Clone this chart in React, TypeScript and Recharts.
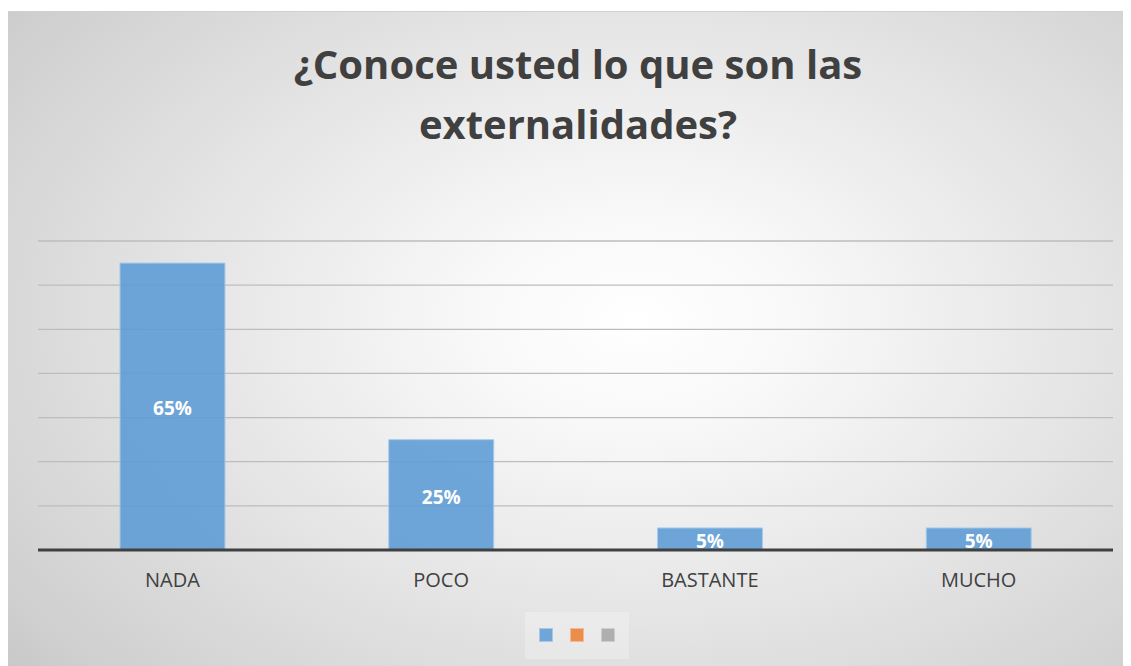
import React from "react";
import { BarChart, Bar, XAxis, YAxis, CartesianGrid, Legend, LabelList } from "recharts";

const categories = ["NADA", "POCO", "BASTANTE", "MUCHO"];
const values = [65, 25, 5, 5];
const valueLabels = ["65%", "25%", "5%", "5%"];
const yTicks = [0, 10, 20, 30, 40, 50, 60, 70];
const legendColors = ["#5B9BD5", "#ED7D31", "#A5A5A5"];
const titleLines = ["¿Conoce usted lo que son las", "externalidades?"];

const data = categories.map((c, i) => ({ name: c, value: values[i], label: valueLabels[i] }));

const FONT = "'Open Sans', sans-serif";

const LegendContent = () => (
  <div style={{ display: "flex", justifyContent: "center", paddingLeft: 2 }}>
    <div
      style={{
        display: "flex",
        gap: 17,
        padding: "16px 14px 17px 14px",
        background: "rgba(255,255,255,0.25)",
      }}
    >
      {legendColors.map((c) => (
        <div
          key={c}
          style={{ width: 14, height: 14, background: c, opacity: 0.85, boxSizing: "border-box", border: "1px solid rgba(255,255,255,0.4)" }}
        />
      ))}
    </div>
  </div>
);

export default function App() {
  return (
    <div
      style={{
        position: "relative",
        width: 1123,
        height: 655,
        marginTop: 3,
        background:
          "radial-gradient(ellipse 75% 85% at 56% 47%, #ffffff 0%, #f8f8f8 20%, #e4e4e4 55%, #cfcfcf 90%, #c6c6c6 100%)",
        borderTop: "1px solid #d0d0d0",
        boxSizing: "border-box",
        fontFamily: FONT,
      }}
    >
      <div
        style={{
          position: "absolute",
          left: 0,
          top: 22,
          width: 1140,
          textAlign: "center",
          fontWeight: 700,
          fontSize: 40,
          lineHeight: "60px",
          color: "#404040",
        }}
      >
        {titleLines.map((t) => (
          <div key={t}>{t}</div>
        ))}
      </div>
      <div style={{ position: "absolute", left: 0, top: -1 }}>
        <BarChart
          width={1123}
          height={655}
          data={data}
          margin={{ top: 230, right: 18, left: 30, bottom: 8 }}
          barCategoryGap="30.5%"
        >
          <CartesianGrid vertical={false} stroke="#bdbdbd" strokeWidth={1.3} />
          <YAxis hide domain={[0, 70]} ticks={yTicks} />
          <XAxis
            dataKey="name"
            height={62}
            tickLine={false}
            axisLine={{ stroke: "#404040", strokeWidth: 3 }}
            tick={{ fill: "#404040", fontSize: 20, fontFamily: FONT }}
            tickMargin={17}
          />
          <Legend verticalAlign="bottom" height={46} content={LegendContent} />
          <Bar
            dataKey="value"
            fill="#5B9BD5"
            fillOpacity={0.88}
            stroke="#a8cbeb"
            strokeWidth={1}
            isAnimationActive={false}
          >
            <LabelList
              dataKey="label"
              position="center"
              fill="#ffffff"
              offset={0}
              dy={2}
              style={{ fontSize: 19, fontWeight: 700, fontFamily: FONT }}
            />
          </Bar>
        </BarChart>
      </div>
    </div>
  );
}
